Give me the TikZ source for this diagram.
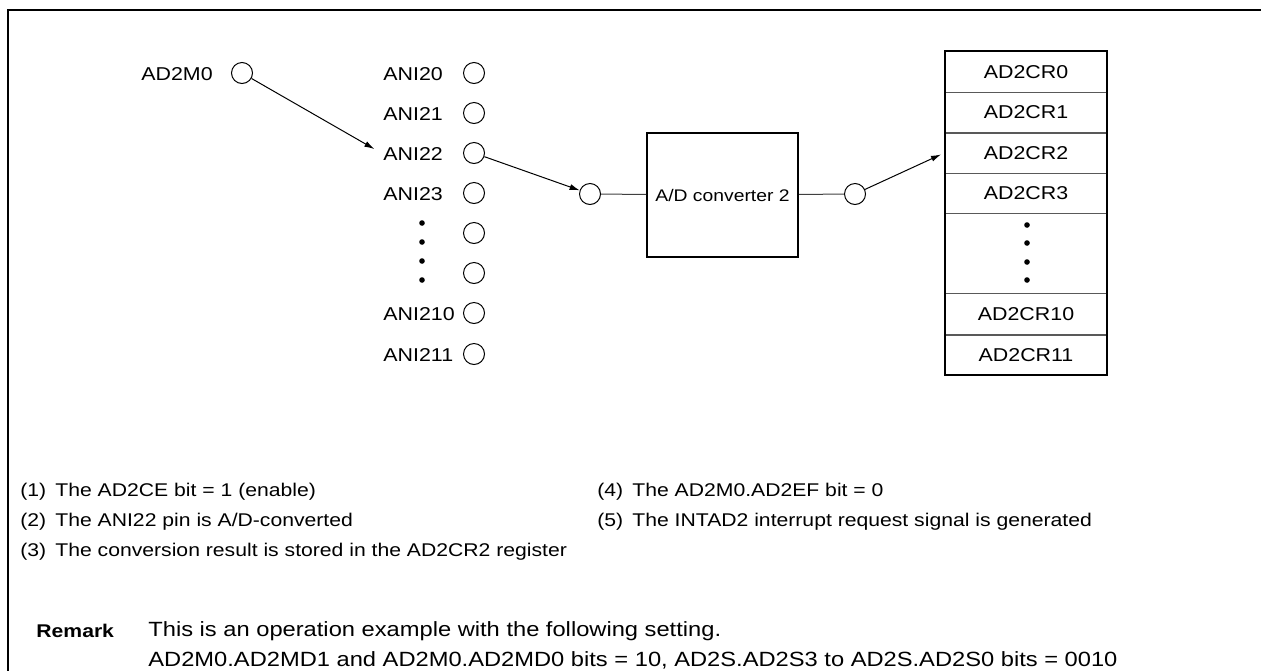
\documentclass[tikz,border=0pt]{standalone}
\usepackage{fontspec}
\setmainfont[FakeStretch=1.15]{Liberation Sans}
\usetikzlibrary{arrows.meta}
\begin{document}
\begin{tikzpicture}[x=0.5pt,y=-0.5pt,
		font=\fontsize{9.3}{11}\selectfont,
		padcirc/.style={circle, draw, line width=0.5pt, minimum size=10.5pt, inner sep=0pt},
		pinlbl/.style={anchor=west, inner sep=0pt},
		flow/.style={-{Latex[length=5pt,width=3pt]}, line width=0.5pt},
		wire/.style={line width=0.5pt, draw=black!75},
		regrow/.style={minimum width=81pt, minimum height=20.2pt, inner sep=0pt},
		divline/.style={line width=0.6pt, draw=black!65},
		dotmark/.style={circle, fill, inner sep=0pt, minimum size=2.8pt},
		note/.style={anchor=west, inner sep=0pt, font=\fontsize{9.2}{11}\selectfont},
		remnote/.style={anchor=west, inner sep=0pt, font=\fontsize{10.3}{12}\selectfont}]
		
		\useasboundingbox (0,0) rectangle (1261,670);
		
		% Marco
		\draw[line width=1.4pt] (8,672) -- (8,10) -- (1263,10);
		
		% Bit AD2M0
		\node (lblM) at (177,74) {AD2M0};
		\node[padcirc] (M0) at (242,73) {};
		
		% Pines ANI2x
		\node[pinlbl] (a20) at (383,74) {ANI20};
		\node[pinlbl] (a21) at (383,114) {ANI21};
		\node[pinlbl] (a22) at (383,154) {ANI22};
		\node[pinlbl] (a23) at (383,194) {ANI23};
		\node[pinlbl] (a210) at (383,314) {ANI210};
		\node[pinlbl] (a211) at (383,355) {ANI211};
		\node[padcirc] (p20) at (474,73) {};
		\node[padcirc] (p21) at (474,113) {};
		\node[padcirc] (p22) at (474,153) {};
		\node[padcirc] (p23) at (474,193) {};
		\node[padcirc] (p24) at (474,233) {};
		\node[padcirc] (p25) at (474,273) {};
		\node[padcirc] (p210) at (474,313) {};
		\node[padcirc] (p211) at (474,354) {};
		\node[dotmark] (d1) at (422,223) {};
		\node[dotmark] (d2) at (422,242) {};
		\node[dotmark] (d3) at (422,261) {};
		\node[dotmark] (d4) at (422,280) {};
		
		% Convertidor A/D
		\node[padcirc] (inC) at (590,194) {};
		\node[draw, line width=1pt, minimum width=75.5pt, minimum height=62pt, inner sep=0pt, font=\fontsize{8.4}{10}\selectfont] (adc) at (722.5,195) {A/D converter 2};
		\node[padcirc] (outC) at (855,194) {};
		
		% Registros AD2CRx
		\node[regrow] (cr0) at (1026,72) {AD2CR0};
		\node[regrow] (cr1) at (1026,112.4) {AD2CR1};
		\node[regrow] (cr2) at (1026,152.8) {AD2CR2};
		\node[regrow] (cr3) at (1026,193.2) {AD2CR3};
		\node[regrow] (cr10) at (1026,314.4) {AD2CR10};
		\node[regrow] (cr11) at (1026,354.8) {AD2CR11};
		\node[dotmark] (e1) at (1027,225) {};
		\node[dotmark] (e2) at (1027,243) {};
		\node[dotmark] (e3) at (1027,262) {};
		\node[dotmark] (e4) at (1027,280) {};
		\draw[divline] (cr0.south west) -- (cr0.south east);
		\draw[divline] (cr1.south west) -- (cr1.south east);
		\draw[divline] (cr2.south west) -- (cr2.south east);
		\draw[divline] (cr3.south west) -- (cr3.south east);
		\draw[divline] (cr10.north west) -- (cr10.north east);
		\draw[divline] (cr10.south west) -- (cr10.south east);
		\draw[line width=1pt] (cr0.north west) rectangle (cr11.south east);
		
		% Flechas
		\draw[flow, shorten >=5pt] (M0) -- (a22.west);
		\draw[flow] (p22) -- (inC);
		\draw[wire] (inC) -- (adc);
		\draw[wire] (adc) -- (outC);
		\draw[flow, shorten >=2pt] (outC) -- (cr2.west);
		
		% Pasos
		\node[note] (s1) at (20,492) {\makebox[17.5pt][l]{(1)}The AD2CE bit = 1 (enable)};
		\node[note] (s2) at (20,522) {\makebox[17.5pt][l]{(2)}The ANI22 pin is A/D-converted};
		\node[note] (s3) at (20,552) {\makebox[17.5pt][l]{(3)}The conversion result is stored in the AD2CR2 register};
		\node[note] (s4) at (597,492) {\makebox[17.5pt][l]{(4)}The AD2M0.AD2EF bit = 0};
		\node[note] (s5) at (597,522) {\makebox[17.5pt][l]{(5)}The INTAD2 interrupt request signal is generated};
		
		% Observacion
		\node[note] (rmk) at (36,631) {\textbf{Remark}};
		\node[remnote] (r1) at (148,631) {This is an operation example with the following setting.};
		\node[remnote] (r2) at (148,660) {AD2M0.AD2MD1 and AD2M0.AD2MD0 bits = 10, AD2S.AD2S3 to AD2S.AD2S0 bits = 0010};
		
	\end{tikzpicture}
\end{document}
